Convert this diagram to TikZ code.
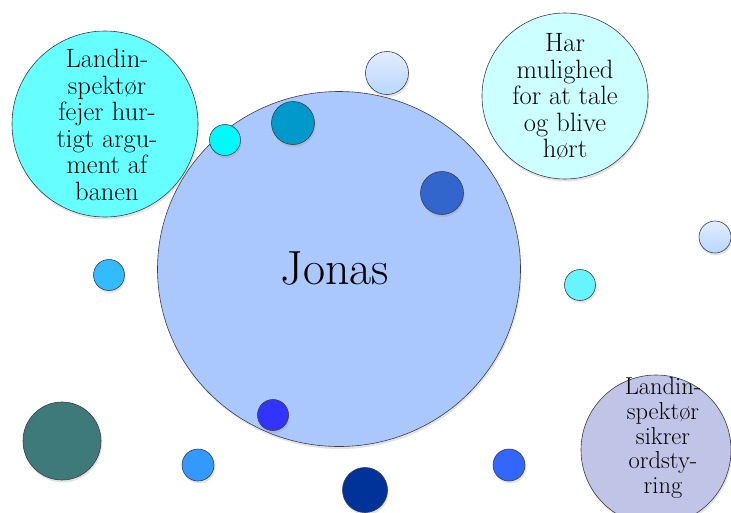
\documentclass[tikz,border=0pt]{standalone}
\usepackage{fontspec}
\usetikzlibrary{shadows,shapes.geometric}
\definecolor{bigc}{RGB}{170,200,252}
\definecolor{fejerc}{RGB}{102,255,255}
\definecolor{harc}{RGB}{204,255,255}
\definecolor{sikrerc}{RGB}{192,196,230}
\definecolor{cyanA}{RGB}{0,250,250}
\definecolor{tealA}{RGB}{0,153,204}
\definecolor{lightTop}{RGB}{226,238,255}
\definecolor{lightBot}{RGB}{184,214,255}
\definecolor{blueA}{RGB}{51,102,204}
\definecolor{blueB}{RGB}{51,51,255}
\definecolor{tealDark}{RGB}{63,122,122}
\definecolor{blueC}{RGB}{51,153,255}
\definecolor{navyA}{RGB}{0,51,153}
\definecolor{blueD}{RGB}{51,187,255}
\definecolor{cyanB}{RGB}{102,245,255}
\definecolor{blueE}{RGB}{51,102,255}
\definecolor{edgec}{RGB}{60,60,70}
\begin{document}
\begin{tikzpicture}[x=1pt,y=-1pt,
  shadowed/.style={drop shadow={opacity=0.22, shadow xshift=1pt, shadow yshift=-2.5pt}},
  bubble/.style={circle, draw=edgec, line width=0.6pt, inner sep=0pt, minimum size=#1, shadowed},
  labelbig/.style={align=center, inner sep=0pt, font=\fontsize{26.5}{26.6}\selectfont},
  labelsmall/.style={align=center, inner sep=0pt, font=\fontsize{24.5}{24.6}\selectfont}]
\useasboundingbox (0,0) rectangle (731,512);
% main circle
\node[ellipse, draw=edgec, line width=0.6pt, inner sep=0pt, minimum width=363, minimum height=355,
  fill=bigc, shadowed] (jonas) at (339,269) {};
\node[font=\fontsize{48}{50}\selectfont] (jonasT) at (335,268) {Jonas};
% large text bubbles
\node[bubble=186, fill=fejerc] (fejer) at (105,124) {};
\node[labelbig] (fejerT) at (107,125) {Landin-\\spektør\\fejer hur-\\tigt argu-\\ment af\\banen};
\node[bubble=166, fill=harc] (har) at (565,96) {};
\node[labelbig] (harT) at (565,97) {Har\\mulighed\\for at tale\\og blive\\hørt};
\node[bubble=150, fill=sikrerc] (sikrer) at (656,450) {};
\node[labelsmall] (sikrerT) at (663,438) {Landin-\\spektør\\sikrer\\ordsty-\\ring};
% small circles
\node[bubble=31, fill=cyanA] (c1) at (225,140) {};
\node[bubble=43, fill=tealA] (c2) at (293,123) {};
\node[bubble=43, top color=lightTop, bottom color=lightBot] (c3) at (387,73) {};
\node[bubble=43, fill=blueA] (c4) at (442,193) {};
\node[bubble=31, fill=blueD] (c5) at (109,275) {};
\node[bubble=31, fill=cyanB] (c6) at (580,285) {};
\node[bubble=32, top color=lightTop, bottom color=lightBot] (c7) at (715,237) {};
\node[bubble=31, fill=blueB] (c8) at (273,415) {};
\node[bubble=78, fill=tealDark] (c9) at (62,441) {};
\node[bubble=32, fill=blueC] (c10) at (198,465) {};
\node[bubble=45, fill=navyA] (c11) at (365,490) {};
\node[bubble=32, fill=blueE] (c12) at (509,465) {};
\end{tikzpicture}
\end{document}
